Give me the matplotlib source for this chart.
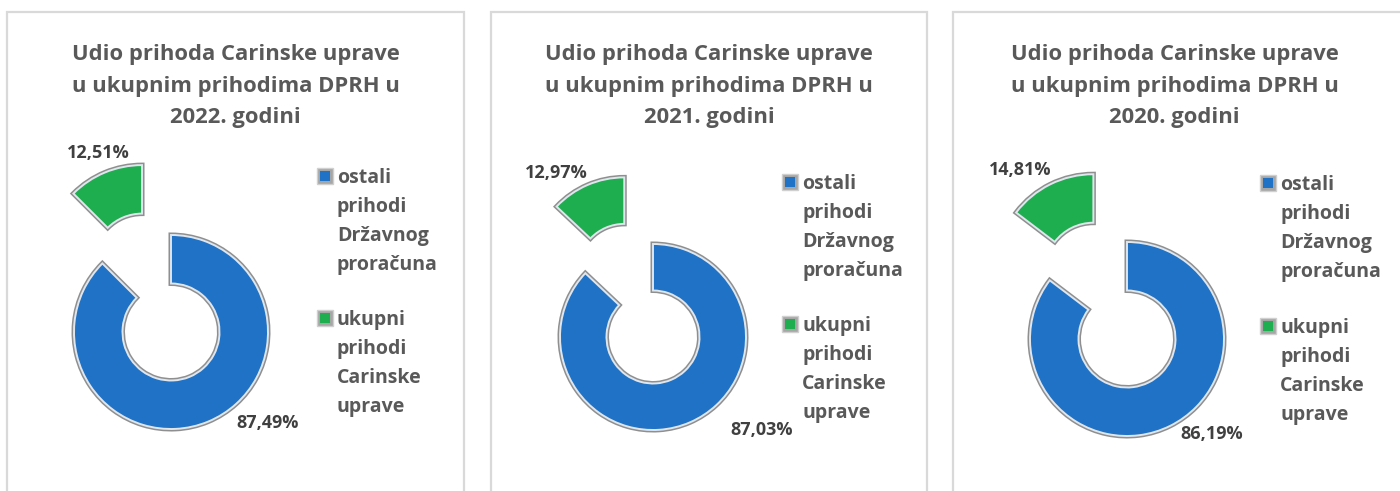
import matplotlib.pyplot as plt
import matplotlib.patheffects as pe
from matplotlib.patches import Rectangle

# data
years = ['2022', '2021', '2020']
share_other = [87.49, 87.03, 86.19]
share_customs = [12.51, 12.97, 14.81]
series_names = ['ostali\nprihodi\nDržavnog\nproračuna',
                'ukupni\nprihodi\nCarinske\nuprave']
colors = ['#1f72c6', '#1fae4f']

W, H = 1400, 491
FONT = ['Open Sans', 'DejaVu Sans']

# layout per panel (pixels, y from top)
panel_left = [7, 491, 953]
panel_right = [464, 927, 1420]
centers = [(171, 332), (653, 337), (1127, 339)]
radii = [97, 93, 97]
lbl_blue = [(268, 423), (762, 430), (1212, 434)]
lbl_green = [(98, 153), (556, 173), (1020, 170)]
marker_pos = [(325, 176), (790, 182), (1268, 183)]
legend_gap = [142, 142, 143]

fig = plt.figure(figsize=(W / 100, H / 100), dpi=100)
ax = fig.add_axes([0, 0, 1, 1])

for i, year in enumerate(years):
    x0, x1 = panel_left[i], panel_right[i]
    ax.add_patch(Rectangle((x0, -10), x1 - x0, H - 12 + 10, fill=False,
                           edgecolor='#d9d9d9', linewidth=1.6))

    cx, cy = centers[i]
    R = radii[i]
    wedges, _ = ax.pie([share_other[i], share_customs[i]], colors=colors,
                       center=(cx, H - cy), radius=R, startangle=90,
                       counterclock=False, explode=[0, 0.78 * R],
                       wedgeprops=dict(width=0.5 * R, edgecolor='#dfe6ee',
                                       linewidth=1.4))
    for w in wedges:
        w.set_path_effects([pe.Stroke(linewidth=3.6, foreground='#8f8f8f'),
                            pe.Normal()])

    # title
    tx = (x0 + x1) / 2 if i < 2 else (x0 + 1396) / 2
    title_lines = ['Udio prihoda Carinske uprave',
                   'u ukupnim prihodima DPRH u',
                   f'{year}. godini']
    for k, line in enumerate(title_lines):
        ax.text(tx, H - (60 + 31.5 * k), line, ha='center', va='baseline',
                fontsize=15.8, fontweight='bold', color='#595959', family=FONT)

    # data labels
    bx, by = lbl_blue[i]
    ax.text(bx, H - by, f'{share_other[i]:.2f}%'.replace('.', ','),
            ha='center', va='center', fontsize=13, fontweight='bold',
            color='#404040', family=FONT)
    gx, gy = lbl_green[i]
    ax.text(gx, H - gy, f'{share_customs[i]:.2f}%'.replace('.', ','),
            ha='center', va='center', fontsize=13, fontweight='bold',
            color='#404040', family=FONT)

    # legend
    mx, my = marker_pos[i]
    for j, name in enumerate(series_names):
        yy = my + legend_gap[i] * j
        ax.add_patch(Rectangle((mx - 8, H - yy - 8), 16, 16,
                               facecolor='#a6a6a6', edgecolor='#d0d0d0',
                               linewidth=1))
        ax.add_patch(Rectangle((mx - 5, H - yy - 5), 10, 10,
                               facecolor=colors[j], edgecolor='none'))
        for k, line in enumerate(name.split('\n')):
            ax.text(mx + 12, H - (yy + 7 + 29 * k), line, ha='left',
                    va='baseline', fontsize=14, fontweight='bold',
                    color='#595959', family=FONT)

ax.set_xlim(0, W)
ax.set_ylim(0, H)
ax.set_aspect('auto')
ax.axis('off')

fig.savefig('out.png', dpi=100)
